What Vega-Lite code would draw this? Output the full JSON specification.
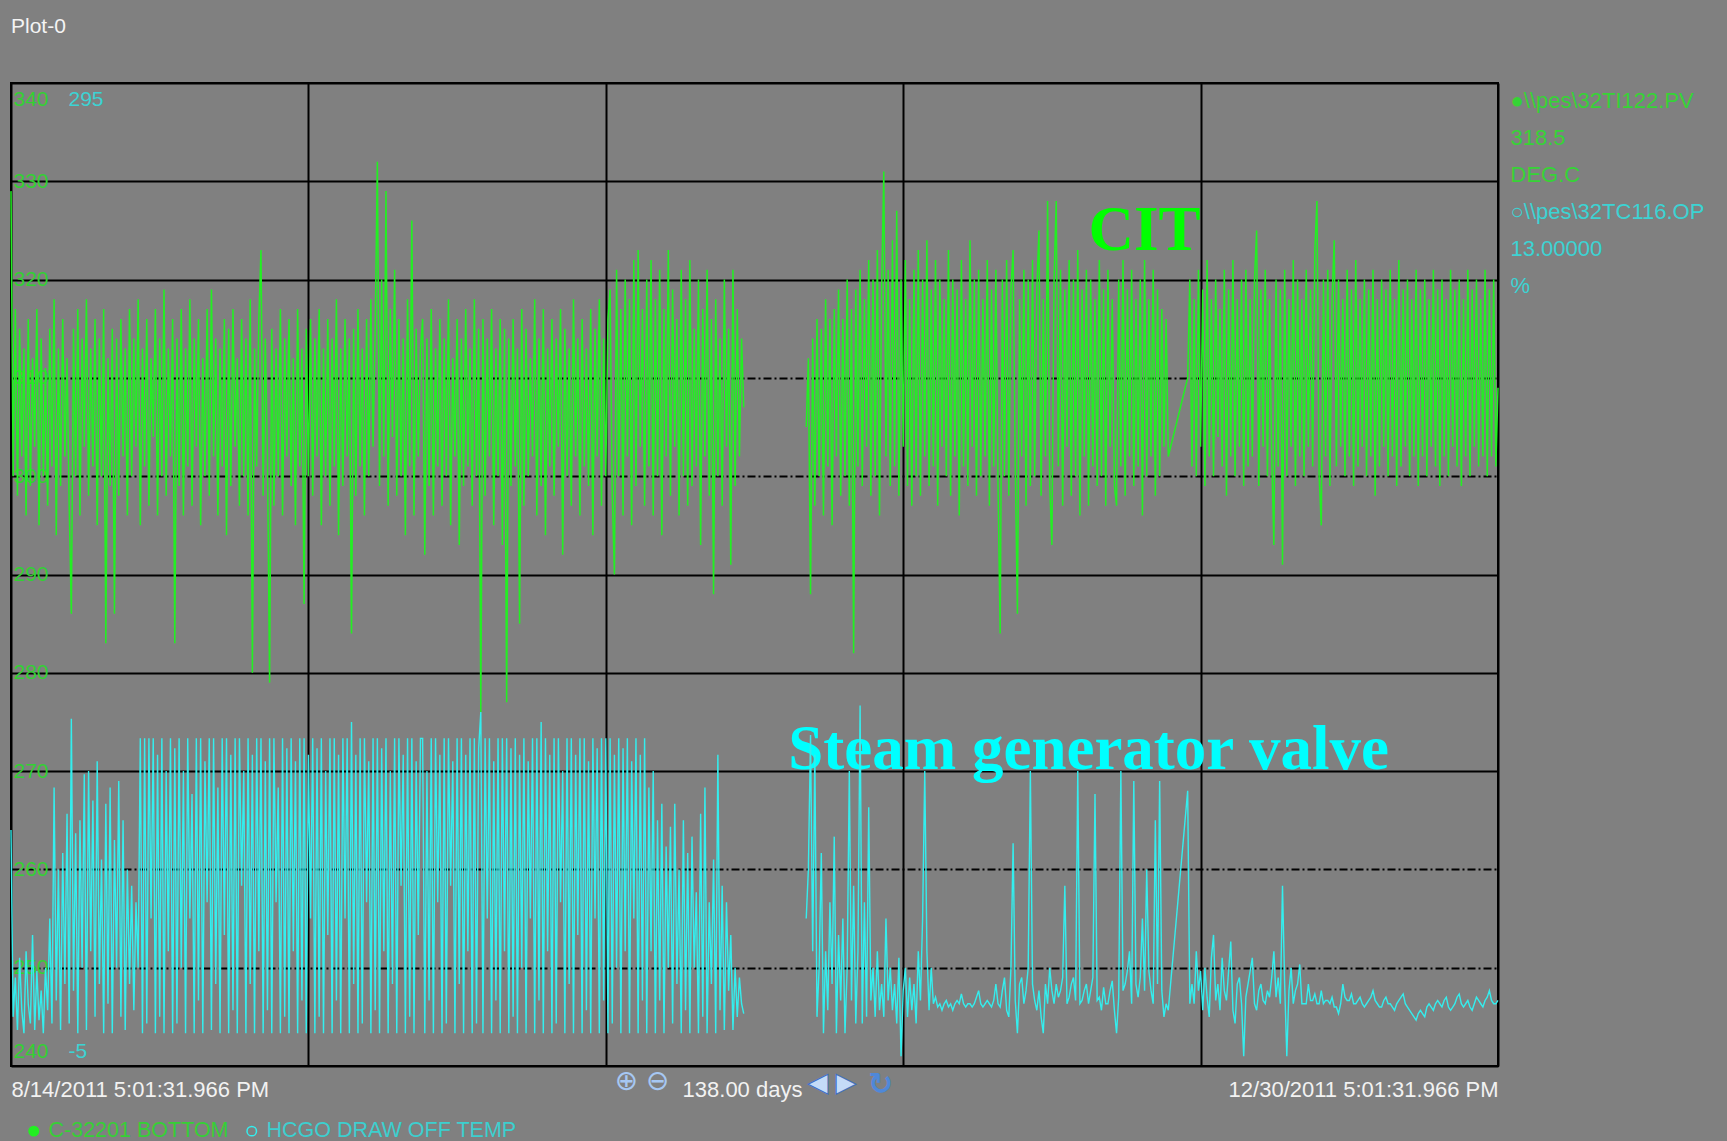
{
"$schema": "https://vega.github.io/schema/vega-lite/v6.json",
"width": 1487, "height": 983,
"autosize": {"type": "none"},
"padding": {"left": 11, "top": 83, "right": 229, "bottom": 75},
"background": "#808080",
"config": {
  "view": {"stroke": "#000000", "strokeWidth": 2},
  "font": "Liberation Sans",
  "axis": {"labelFont": "Liberation Sans", "titleFont": "Liberation Sans"},
  "legend": {"labelFont": "Liberation Sans"}
},
"title": {"text": "Plot-0", "anchor": "start", "frame": "group", "offset": 29, "baseline": "alphabetic", "color": "#f4f4f4", "fontSize": 21, "fontWeight": "normal", "font": "Liberation Sans"},
"data": {"values": [
{"d":0,"g":329,"c":67},{"d":0.2,"g":300,"c":10},{"d":0.4,"g":317,"c":22},{"d":0.6,"g":298,"c":6},{"d":0.8,"g":315,"c":28},{"d":1,"g":302,"c":12},{"d":1.2,"g":313,"c":5},{"d":1.4,"g":296,"c":30},{"d":1.6,"g":316,"c":14},{"d":1.8,"g":299,"c":8},
{"d":2,"g":312,"c":35},{"d":2.2,"g":303,"c":6},{"d":2.4,"g":317,"c":24},{"d":2.6,"g":295,"c":9},{"d":2.8,"g":314,"c":18},{"d":3,"g":300,"c":5},{"d":3.2,"g":311,"c":25},{"d":3.4,"g":297,"c":12},{"d":3.6,"g":315,"c":40},{"d":3.8,"g":301,"c":8},
{"d":4,"g":318,"c":80},{"d":4.2,"g":294,"c":15},{"d":4.4,"g":313,"c":55},{"d":4.6,"g":299,"c":6},{"d":4.8,"g":316,"c":60},{"d":5,"g":302,"c":20},{"d":5.2,"g":312,"c":72},{"d":5.4,"g":297,"c":8},{"d":5.6,"g":286,"c":101},{"d":5.8,"g":315,"c":18},
{"d":6,"g":300,"c":66},{"d":6.2,"g":317,"c":5},{"d":6.4,"g":296,"c":70},{"d":6.6,"g":314,"c":25},{"d":6.8,"g":303,"c":84},{"d":7,"g":318,"c":6},{"d":7.2,"g":298,"c":85},{"d":7.4,"g":313,"c":30},{"d":7.6,"g":301,"c":76},{"d":7.8,"g":316,"c":10},
{"d":8,"g":295,"c":88},{"d":8.2,"g":314,"c":20},{"d":8.4,"g":300,"c":58},{"d":8.6,"g":317,"c":5},{"d":8.8,"g":283,"c":75},{"d":9,"g":312,"c":14},{"d":9.2,"g":299,"c":80},{"d":9.4,"g":315,"c":5},{"d":9.6,"g":286,"c":64},{"d":9.8,"g":314,"c":25},
{"d":10,"g":298,"c":82},{"d":10.2,"g":316,"c":10},{"d":10.4,"g":302,"c":70},{"d":10.6,"g":313,"c":6},{"d":10.8,"g":296,"c":55},{"d":11,"g":317,"c":20},{"d":11.2,"g":300,"c":50},{"d":11.4,"g":314,"c":12},{"d":11.6,"g":303,"c":45},{"d":11.8,"g":318,"c":25},
{"d":12,"g":295,"c":95},{"d":12.2,"g":313,"c":5},{"d":12.4,"g":301,"c":95},{"d":12.6,"g":316,"c":8},{"d":12.8,"g":297,"c":95},{"d":13,"g":312,"c":40},{"d":13.2,"g":304,"c":95},{"d":13.4,"g":317,"c":5},{"d":13.6,"g":296,"c":90},{"d":13.8,"g":314,"c":10},
{"d":14,"g":300,"c":95},{"d":14.2,"g":319,"c":5},{"d":14.4,"g":298,"c":85},{"d":14.6,"g":313,"c":30},{"d":14.8,"g":302,"c":95},{"d":15,"g":316,"c":5},{"d":15.2,"g":283,"c":92},{"d":15.4,"g":314,"c":8},{"d":15.6,"g":299,"c":95},{"d":15.8,"g":317,"c":25},
{"d":16,"g":296,"c":85},{"d":16.2,"g":313,"c":5},{"d":16.4,"g":301,"c":95},{"d":16.6,"g":318,"c":40},{"d":16.8,"g":297,"c":78},{"d":17,"g":314,"c":5},{"d":17.2,"g":303,"c":95},{"d":17.4,"g":316,"c":15},{"d":17.6,"g":295,"c":95},{"d":17.8,"g":312,"c":5},
{"d":18,"g":300,"c":88},{"d":18.2,"g":317,"c":45},{"d":18.4,"g":298,"c":95},{"d":18.6,"g":319,"c":6},{"d":18.8,"g":302,"c":95},{"d":19,"g":314,"c":20},{"d":19.2,"g":296,"c":80},{"d":19.4,"g":313,"c":5},{"d":19.6,"g":301,"c":95},{"d":19.8,"g":316,"c":35},
{"d":20,"g":294,"c":95},{"d":20.2,"g":315,"c":5},{"d":20.4,"g":299,"c":90},{"d":20.6,"g":317,"c":12},{"d":20.8,"g":303,"c":95},{"d":21,"g":312,"c":5},{"d":21.2,"g":297,"c":95},{"d":21.4,"g":316,"c":50},{"d":21.6,"g":300,"c":85},{"d":21.8,"g":314,"c":5},
{"d":22,"g":296,"c":95},{"d":22.2,"g":318,"c":20},{"d":22.4,"g":280,"c":90},{"d":22.6,"g":313,"c":5},{"d":22.8,"g":301,"c":95},{"d":23,"g":316,"c":30},{"d":23.2,"g":323,"c":95},{"d":23.4,"g":298,"c":5},{"d":23.6,"g":314,"c":88},{"d":23.8,"g":302,"c":12},
{"d":24,"g":279,"c":95},{"d":24.2,"g":315,"c":5},{"d":24.4,"g":297,"c":95},{"d":24.6,"g":313,"c":45},{"d":24.8,"g":300,"c":80},{"d":25,"g":317,"c":5},{"d":25.2,"g":296,"c":95},{"d":25.4,"g":314,"c":10},{"d":25.6,"g":302,"c":92},{"d":25.8,"g":316,"c":5},
{"d":26,"g":299,"c":95},{"d":26.2,"g":312,"c":30},{"d":26.4,"g":295,"c":88},{"d":26.6,"g":317,"c":5},{"d":26.8,"g":301,"c":95},{"d":27,"g":313,"c":15},{"d":27.2,"g":287,"c":95},{"d":27.4,"g":315,"c":5},{"d":27.6,"g":300,"c":90},{"d":27.8,"g":316,"c":40},
{"d":28,"g":298,"c":95},{"d":28.2,"g":314,"c":5},{"d":28.4,"g":302,"c":92},{"d":28.6,"g":317,"c":10},{"d":28.8,"g":295,"c":95},{"d":29,"g":313,"c":5},{"d":29.2,"g":300,"c":85},{"d":29.4,"g":316,"c":35},{"d":29.6,"g":297,"c":95},{"d":29.8,"g":314,"c":5},
{"d":30,"g":301,"c":95},{"d":30.2,"g":318,"c":15},{"d":30.4,"g":294,"c":90},{"d":30.6,"g":313,"c":5},{"d":30.8,"g":299,"c":95},{"d":31,"g":316,"c":40},{"d":31.2,"g":302,"c":95},{"d":31.4,"g":314,"c":5},{"d":31.6,"g":284,"c":100},{"d":31.8,"g":315,"c":20},
{"d":32,"g":298,"c":90},{"d":32.2,"g":317,"c":5},{"d":32.4,"g":301,"c":95},{"d":32.6,"g":313,"c":8},{"d":32.8,"g":296,"c":95},{"d":33,"g":316,"c":45},{"d":33.2,"g":300,"c":88},{"d":33.4,"g":318,"c":5},{"d":33.6,"g":303,"c":95},{"d":33.8,"g":315,"c":12},
{"d":34,"g":332,"c":95},{"d":34.2,"g":299,"c":5},{"d":34.4,"g":320,"c":92},{"d":34.6,"g":302,"c":30},{"d":34.8,"g":329,"c":95},{"d":35,"g":297,"c":5},{"d":35.2,"g":317,"c":85},{"d":35.4,"g":304,"c":20},{"d":35.6,"g":321,"c":95},{"d":35.8,"g":298,"c":5},
{"d":36,"g":316,"c":95},{"d":36.2,"g":300,"c":50},{"d":36.4,"g":314,"c":90},{"d":36.6,"g":294,"c":5},{"d":36.8,"g":318,"c":95},{"d":37,"g":301,"c":10},{"d":37.2,"g":326,"c":95},{"d":37.4,"g":296,"c":5},{"d":37.6,"g":315,"c":88},{"d":37.8,"g":302,"c":35},
{"d":38,"g":313,"c":95},{"d":38.2,"g":316,"c":95},{"d":38.4,"g":292,"c":5},{"d":38.6,"g":314,"c":85},{"d":38.8,"g":299,"c":15},{"d":39,"g":317,"c":95},{"d":39.2,"g":296,"c":5},{"d":39.4,"g":313,"c":95},{"d":39.6,"g":301,"c":45},{"d":39.8,"g":316,"c":90},
{"d":40,"g":297,"c":5},{"d":40.2,"g":314,"c":95},{"d":40.4,"g":300,"c":8},{"d":40.6,"g":318,"c":95},{"d":40.8,"g":295,"c":50},{"d":41,"g":312,"c":88},{"d":41.2,"g":302,"c":5},{"d":41.4,"g":316,"c":95},{"d":41.6,"g":293,"c":20},{"d":41.8,"g":314,"c":95},
{"d":42,"g":299,"c":5},{"d":42.2,"g":317,"c":90},{"d":42.4,"g":301,"c":30},{"d":42.6,"g":313,"c":95},{"d":42.8,"g":297,"c":5},{"d":43,"g":318,"c":95},{"d":43.2,"g":300,"c":8},{"d":43.4,"g":315,"c":92},{"d":43.6,"g":276,"c":103},{"d":43.8,"g":316,"c":5},
{"d":44,"g":298,"c":95},{"d":44.2,"g":314,"c":40},{"d":44.4,"g":302,"c":95},{"d":44.6,"g":317,"c":5},{"d":44.8,"g":295,"c":88},{"d":45,"g":313,"c":15},{"d":45.2,"g":300,"c":95},{"d":45.4,"g":316,"c":5},{"d":45.6,"g":293,"c":95},{"d":45.8,"g":315,"c":30},
{"d":46,"g":277,"c":95},{"d":46.2,"g":314,"c":5},{"d":46.4,"g":299,"c":92},{"d":46.6,"g":316,"c":10},{"d":46.8,"g":301,"c":95},{"d":47,"g":313,"c":5},{"d":47.2,"g":285,"c":90},{"d":47.4,"g":317,"c":25},{"d":47.6,"g":297,"c":95},{"d":47.8,"g":315,"c":5},
{"d":48,"g":300,"c":88},{"d":48.2,"g":312,"c":40},{"d":48.4,"g":302,"c":95},{"d":48.6,"g":318,"c":5},{"d":48.8,"g":296,"c":95},{"d":49,"g":314,"c":15},{"d":49.2,"g":299,"c":100},{"d":49.4,"g":317,"c":5},{"d":49.6,"g":294,"c":95},{"d":49.8,"g":313,"c":30},
{"d":50,"g":301,"c":90},{"d":50.2,"g":316,"c":5},{"d":50.4,"g":298,"c":95},{"d":50.6,"g":314,"c":8},{"d":50.8,"g":303,"c":95},{"d":51,"g":317,"c":45},{"d":51.2,"g":292,"c":85},{"d":51.4,"g":315,"c":5},{"d":51.6,"g":300,"c":95},{"d":51.8,"g":313,"c":20},
{"d":52,"g":297,"c":95},{"d":52.2,"g":318,"c":5},{"d":52.4,"g":302,"c":90},{"d":52.6,"g":314,"c":35},{"d":52.8,"g":296,"c":95},{"d":53,"g":316,"c":5},{"d":53.2,"g":301,"c":95},{"d":53.4,"g":313,"c":12},{"d":53.6,"g":299,"c":88},{"d":53.8,"g":317,"c":5},
{"d":54,"g":294,"c":95},{"d":54.2,"g":315,"c":40},{"d":54.4,"g":302,"c":92},{"d":54.6,"g":318,"c":5},{"d":54.8,"g":297,"c":95},{"d":55,"g":314,"c":15},{"d":55.2,"g":300,"c":95},{"d":55.4,"g":316,"c":5},{"d":55.6,"g":319,"c":95},{"d":55.8,"g":298,"c":8},
{"d":56,"g":290,"c":90},{"d":56.2,"g":321,"c":25},{"d":56.4,"g":300,"c":95},{"d":56.6,"g":317,"c":5},{"d":56.8,"g":296,"c":92},{"d":57,"g":320,"c":30},{"d":57.2,"g":302,"c":95},{"d":57.4,"g":318,"c":5},{"d":57.6,"g":295,"c":88},{"d":57.8,"g":322,"c":40},
{"d":58,"g":299,"c":95},{"d":58.2,"g":323,"c":5},{"d":58.4,"g":303,"c":90},{"d":58.6,"g":317,"c":15},{"d":58.8,"g":297,"c":95},{"d":59,"g":320,"c":5},{"d":59.2,"g":301,"c":80},{"d":59.4,"g":322,"c":30},{"d":59.6,"g":296,"c":85},{"d":59.8,"g":318,"c":5},
{"d":60,"g":300,"c":70},{"d":60.2,"g":321,"c":15},{"d":60.4,"g":294,"c":75},{"d":60.6,"g":317,"c":5},{"d":60.8,"g":302,"c":62},{"d":61,"g":323,"c":25},{"d":61.2,"g":298,"c":68},{"d":61.4,"g":319,"c":8},{"d":61.6,"g":303,"c":75},{"d":61.8,"g":316,"c":20},
{"d":62,"g":296,"c":55},{"d":62.2,"g":321,"c":5},{"d":62.4,"g":300,"c":70},{"d":62.6,"g":318,"c":12},{"d":62.8,"g":297,"c":60},{"d":63,"g":322,"c":5},{"d":63.2,"g":299,"c":65},{"d":63.4,"g":315,"c":25},{"d":63.6,"g":301,"c":48},{"d":63.8,"g":320,"c":5},
{"d":64,"g":293,"c":72},{"d":64.2,"g":317,"c":10},{"d":64.4,"g":302,"c":80},{"d":64.6,"g":321,"c":5},{"d":64.8,"g":298,"c":45},{"d":65,"g":316,"c":20},{"d":65.2,"g":288,"c":58},{"d":65.4,"g":318,"c":5},{"d":65.6,"g":300,"c":90},{"d":65.8,"g":314,"c":12},
{"d":66,"g":297,"c":50},{"d":66.2,"g":320,"c":6},{"d":66.4,"g":303,"c":45},{"d":66.6,"g":315,"c":18},{"d":66.8,"g":291,"c":35},{"d":67,"g":321,"c":6},{"d":67.2,"g":299,"c":25},{"d":67.4,"g":317,"c":10},{"d":67.6,"g":302,"c":22},{"d":67.8,"g":314,"c":14},
{"d":68,"g":307,"c":11},{"d":71,"g":null,"c":null},
{"d":73.8,"g":305,"c":40},{"d":74,"g":312,"c":55},{"d":74.2,"g":288,"c":96},{"d":74.4,"g":314,"c":30},{"d":74.6,"g":297,"c":90},{"d":74.8,"g":316,"c":10},{"d":75,"g":300,"c":25},{"d":75.2,"g":315,"c":60},{"d":75.4,"g":296,"c":5},{"d":75.6,"g":318,"c":30},
{"d":75.8,"g":301,"c":12},{"d":76,"g":316,"c":45},{"d":76.2,"g":295,"c":20},{"d":76.4,"g":317,"c":65},{"d":76.6,"g":302,"c":5},{"d":76.8,"g":319,"c":35},{"d":77,"g":298,"c":15},{"d":77.2,"g":316,"c":40},{"d":77.4,"g":300,"c":5},{"d":77.6,"g":320,"c":25},
{"d":77.8,"g":297,"c":85},{"d":78,"g":317,"c":15},{"d":78.2,"g":282,"c":50},{"d":78.4,"g":319,"c":8},{"d":78.6,"g":301,"c":30},{"d":78.8,"g":321,"c":105},{"d":79,"g":299,"c":8},{"d":79.2,"g":318,"c":45},{"d":79.4,"g":303,"c":10},{"d":79.6,"g":322,"c":74},
{"d":79.8,"g":298,"c":15},{"d":80,"g":320,"c":25},{"d":80.2,"g":300,"c":10},{"d":80.4,"g":323,"c":30},{"d":80.6,"g":296,"c":12},{"d":80.8,"g":319,"c":20},{"d":81,"g":331,"c":10},{"d":81.2,"g":302,"c":40},{"d":81.4,"g":321,"c":15},{"d":81.6,"g":299,"c":25},
{"d":81.8,"g":324,"c":12},{"d":82,"g":301,"c":20},{"d":82.2,"g":327,"c":8},{"d":82.4,"g":298,"c":28},{"d":82.6,"g":320,"c":-2},{"d":82.8,"g":303,"c":18},{"d":83,"g":322,"c":25},{"d":83.2,"g":299,"c":10},{"d":83.4,"g":318,"c":22},{"d":83.6,"g":297,"c":12},
{"d":83.8,"g":321,"c":20},{"d":84,"g":300,"c":8},{"d":84.2,"g":323,"c":30},{"d":84.4,"g":298,"c":15},{"d":84.6,"g":320,"c":40},{"d":84.8,"g":302,"c":85},{"d":85,"g":324,"c":30},{"d":85.2,"g":299,"c":12},{"d":85.4,"g":319,"c":25},{"d":85.6,"g":301,"c":14},
{"d":85.8,"g":322,"c":16},{"d":86,"g":297,"c":13},{"d":86.2,"g":320,"c":14},{"d":86.4,"g":303,"c":12},{"d":86.6,"g":318,"c":14},{"d":86.8,"g":300,"c":15},{"d":87,"g":323,"c":13},{"d":87.2,"g":298,"c":14},{"d":87.4,"g":320,"c":12},{"d":87.6,"g":302,"c":14},
{"d":87.8,"g":319,"c":15},{"d":88,"g":296,"c":14},{"d":88.2,"g":322,"c":17},{"d":88.4,"g":301,"c":14},{"d":88.6,"g":318,"c":13},{"d":88.8,"g":299,"c":14},{"d":89,"g":324,"c":14},{"d":89.2,"g":303,"c":13},{"d":89.4,"g":320,"c":14},{"d":89.6,"g":298,"c":16},
{"d":89.8,"g":321,"c":18},{"d":90,"g":300,"c":14},{"d":90.2,"g":318,"c":13},{"d":90.4,"g":302,"c":14},{"d":90.6,"g":322,"c":15},{"d":90.8,"g":297,"c":14},{"d":91,"g":319,"c":13},{"d":91.2,"g":301,"c":15},{"d":91.4,"g":321,"c":20},{"d":91.6,"g":299,"c":14},
{"d":91.8,"g":284,"c":13},{"d":92,"g":320,"c":18},{"d":92.2,"g":300,"c":22},{"d":92.4,"g":322,"c":12},{"d":92.6,"g":298,"c":10},{"d":92.8,"g":319,"c":25},{"d":93,"g":323,"c":63},{"d":93.2,"g":301,"c":15},{"d":93.4,"g":286,"c":5},{"d":93.6,"g":318,"c":20},
{"d":93.8,"g":302,"c":22},{"d":94,"g":321,"c":14},{"d":94.2,"g":297,"c":18},{"d":94.4,"g":320,"c":25},{"d":94.6,"g":299,"c":85},{"d":94.8,"g":322,"c":20},{"d":95,"g":300,"c":15},{"d":95.2,"g":319,"c":12},{"d":95.4,"g":325,"c":18},{"d":95.6,"g":298,"c":10},
{"d":95.8,"g":318,"c":5},{"d":96,"g":302,"c":20},{"d":96.2,"g":328,"c":14},{"d":96.4,"g":299,"c":25},{"d":96.6,"g":293,"c":18},{"d":96.8,"g":320,"c":14},{"d":97,"g":328,"c":20},{"d":97.2,"g":301,"c":16},{"d":97.4,"g":321,"c":18},{"d":97.6,"g":297,"c":22},
{"d":97.8,"g":319,"c":50},{"d":98,"g":303,"c":14},{"d":98.2,"g":322,"c":16},{"d":98.4,"g":298,"c":20},{"d":98.6,"g":320,"c":22},{"d":98.8,"g":300,"c":15},{"d":99,"g":323,"c":85},{"d":99.2,"g":296,"c":14},{"d":99.4,"g":319,"c":15},{"d":99.6,"g":302,"c":18},
{"d":99.8,"g":321,"c":20},{"d":100,"g":297,"c":14},{"d":100.2,"g":320,"c":18},{"d":100.4,"g":301,"c":22},{"d":100.6,"g":318,"c":78},{"d":100.8,"g":299,"c":15},{"d":101,"g":322,"c":16},{"d":101.2,"g":300,"c":12},{"d":101.4,"g":319,"c":19},{"d":101.6,"g":297,"c":14},
{"d":101.8,"g":321,"c":14},{"d":102,"g":303,"c":18},{"d":102.2,"g":318,"c":21},{"d":102.4,"g":299,"c":12},{"d":102.6,"g":297,"c":5},{"d":102.8,"g":320,"c":16},{"d":103,"g":301,"c":85},{"d":103.2,"g":322,"c":18},{"d":103.4,"g":298,"c":20},{"d":103.6,"g":319,"c":24},
{"d":103.8,"g":302,"c":30},{"d":104,"g":321,"c":14},{"d":104.2,"g":299,"c":82},{"d":104.4,"g":318,"c":20},{"d":104.6,"g":301,"c":16},{"d":104.8,"g":320,"c":22},{"d":105,"g":296,"c":40},{"d":105.2,"g":322,"c":18},{"d":105.4,"g":300,"c":55},{"d":105.6,"g":318,"c":24},
{"d":105.8,"g":302,"c":18},{"d":106,"g":321,"c":14},{"d":106.2,"g":298,"c":70},{"d":106.4,"g":319,"c":20},{"d":106.6,"g":300,"c":82},{"d":106.8,"g":317,"c":18},{"d":107,"g":303,"c":10},{"d":107.2,"g":316,"c":14},{"d":107.4,"g":302,"c":12},{"d":109.2,"g":310,"c":79},
{"d":109.4,"g":320,"c":14},{"d":109.6,"g":301,"c":20},{"d":109.8,"g":318,"c":14},{"d":110,"g":300,"c":30},{"d":110.2,"g":321,"c":18},{"d":110.4,"g":303,"c":24},{"d":110.6,"g":319,"c":12},{"d":110.8,"g":299,"c":25},{"d":111,"g":322,"c":16},{"d":111.2,"g":302,"c":10},
{"d":111.4,"g":318,"c":28},{"d":111.6,"g":300,"c":35},{"d":111.8,"g":320,"c":15},{"d":112,"g":304,"c":20},{"d":112.2,"g":317,"c":12},{"d":112.4,"g":301,"c":28},{"d":112.6,"g":321,"c":18},{"d":112.8,"g":298,"c":15},{"d":113,"g":319,"c":24},{"d":113.2,"g":302,"c":33},
{"d":113.4,"g":322,"c":12},{"d":113.6,"g":300,"c":8},{"d":113.8,"g":318,"c":20},{"d":114,"g":303,"c":22},{"d":114.2,"g":320,"c":14},{"d":114.4,"g":299,"c":-2},{"d":114.6,"g":321,"c":16},{"d":114.8,"g":301,"c":20},{"d":115,"g":318,"c":24},{"d":115.2,"g":302,"c":28},
{"d":115.4,"g":320,"c":14},{"d":115.6,"g":325,"c":12},{"d":115.8,"g":299,"c":18},{"d":116,"g":319,"c":20},{"d":116.2,"g":303,"c":15},{"d":116.4,"g":321,"c":14},{"d":116.6,"g":300,"c":18},{"d":116.8,"g":318,"c":16},{"d":117,"g":302,"c":22},{"d":117.2,"g":293,"c":30},
{"d":117.4,"g":320,"c":16},{"d":117.6,"g":301,"c":22},{"d":117.8,"g":319,"c":14},{"d":118,"g":291,"c":50},{"d":118.2,"g":321,"c":20},{"d":118.4,"g":300,"c":-2},{"d":118.6,"g":318,"c":18},{"d":118.8,"g":303,"c":25},{"d":119,"g":322,"c":14},{"d":119.2,"g":299,"c":18},
{"d":119.4,"g":320,"c":20},{"d":119.6,"g":302,"c":26},{"d":119.8,"g":318,"c":14},{"d":120,"g":300,"c":14},{"d":120.2,"g":321,"c":14},{"d":120.4,"g":303,"c":20},{"d":120.6,"g":319,"c":15},{"d":120.8,"g":301,"c":15},{"d":121,"g":323,"c":17},{"d":121.2,"g":328,"c":14},
{"d":121.4,"g":300,"c":14},{"d":121.6,"g":295,"c":18},{"d":121.8,"g":320,"c":14},{"d":122,"g":302,"c":15},{"d":122.2,"g":321,"c":15},{"d":122.4,"g":299,"c":14},{"d":122.6,"g":318,"c":16},{"d":122.8,"g":324,"c":13},{"d":123,"g":301,"c":13},{"d":123.2,"g":320,"c":11},
{"d":123.4,"g":303,"c":14},{"d":123.6,"g":318,"c":20},{"d":123.8,"g":300,"c":16},{"d":124,"g":321,"c":15},{"d":124.2,"g":302,"c":15},{"d":124.4,"g":319,"c":17},{"d":124.6,"g":299,"c":14},{"d":124.8,"g":322,"c":14},{"d":125,"g":301,"c":15},{"d":125.2,"g":318,"c":16},
{"d":125.4,"g":303,"c":14},{"d":125.6,"g":320,"c":13},{"d":125.8,"g":300,"c":14},{"d":126,"g":319,"c":15},{"d":126.2,"g":302,"c":16},{"d":126.4,"g":321,"c":18},{"d":126.6,"g":298,"c":15},{"d":126.8,"g":318,"c":14},{"d":127,"g":301,"c":13},{"d":127.2,"g":320,"c":13},
{"d":127.4,"g":303,"c":15},{"d":127.6,"g":319,"c":16},{"d":127.8,"g":300,"c":14},{"d":128,"g":321,"c":14},{"d":128.2,"g":302,"c":13},{"d":128.4,"g":318,"c":12},{"d":128.6,"g":299,"c":14},{"d":128.8,"g":322,"c":15},{"d":129,"g":301,"c":16},{"d":129.2,"g":319,"c":17},
{"d":129.4,"g":303,"c":14},{"d":129.6,"g":320,"c":13},{"d":129.8,"g":300,"c":12},{"d":130,"g":318,"c":11},{"d":130.2,"g":302,"c":10},{"d":130.4,"g":321,"c":9},{"d":130.6,"g":299,"c":11},{"d":130.8,"g":319,"c":12},{"d":131,"g":302,"c":11},{"d":131.2,"g":320,"c":10},
{"d":131.4,"g":300,"c":13},{"d":131.6,"g":318,"c":14},{"d":131.8,"g":303,"c":13},{"d":132,"g":321,"c":12},{"d":132.2,"g":301,"c":14},{"d":132.4,"g":319,"c":15},{"d":132.6,"g":299,"c":14},{"d":132.8,"g":320,"c":13},{"d":133,"g":302,"c":15},{"d":133.2,"g":318,"c":16},
{"d":133.4,"g":300,"c":13},{"d":133.6,"g":321,"c":12},{"d":133.8,"g":303,"c":13},{"d":134,"g":319,"c":14},{"d":134.2,"g":301,"c":16},{"d":134.4,"g":320,"c":17},{"d":134.6,"g":299,"c":14},{"d":134.8,"g":318,"c":13},{"d":135,"g":302,"c":14},{"d":135.2,"g":321,"c":15},
{"d":135.4,"g":300,"c":13},{"d":135.6,"g":319,"c":12},{"d":135.8,"g":303,"c":14},{"d":136,"g":320,"c":16},{"d":136.2,"g":301,"c":15},{"d":136.4,"g":318,"c":14},{"d":136.6,"g":302,"c":13},{"d":136.8,"g":321,"c":15},{"d":137,"g":300,"c":16},{"d":137.2,"g":319,"c":18},
{"d":137.4,"g":302,"c":15},{"d":137.6,"g":320,"c":14},{"d":137.8,"g":301,"c":14},{"d":138,"g":309,"c":15}
]},
"encoding": {
  "x": {"field": "d", "type": "quantitative", "scale": {"domain": [0, 138], "nice": false, "zero": false},
    "axis": {"values": [0, 27.6, 55.2, 82.8, 110.4, 138],
      "labelExpr": "datum.value === 0 ? '8/14/2011 5:01:31.966 PM' : (datum.value === 138 ? '12/30/2011 5:01:31.966 PM' : '')",
      "labelFlush": true, "labelOverlap": false, "labelLimit": 0, "labelColor": "#f2f2f2", "labelFontSize": 22, "labelBaseline": "alphabetic", "labelPadding": 30,
      "tickSize": 0, "ticks": false, "domain": false,
      "grid": true, "gridColor": "#000000", "gridWidth": 2, "gridOpacity": 1,
      "title": "138.00 days", "titleColor": "#f2f2f2", "titleFontSize": 22, "titleFontWeight": "normal", "titleBaseline": "alphabetic", "titleX": 731, "titleY": 30}}
},
"layer": [
  {"layer": [
    {"mark": {"type": "line", "strokeWidth": 1.5, "invalid": "break-paths-filter-domains"},
     "encoding": {
       "y": {"field": "g", "type": "quantitative", "scale": {"domain": [240, 340], "nice": false, "zero": false},
         "axis": {"orient": "left", "values": [240, 250, 260, 270, 280, 290, 300, 310, 320, 330, 340],
           "labelAlign": "left", "labelPadding": -2, "tickSize": 0, "ticks": false, "domain": false,
           "labelColor": "#33d033", "labelFontSize": 21, "labelFlush": true, "labelFlushOffset": -5, "labelOverlap": false,
           "grid": true, "gridColor": "#000000", "gridWidth": 2, "gridOpacity": 1,
           "gridDash": {"condition": {"test": "datum.value === 310 || datum.value === 300 || datum.value === 260 || datum.value === 250", "value": [8, 3, 2, 3]}, "value": []},
           "title": ["●\\\\pes\\32TI122.PV", "\u00a0\u00a0\u00a0318.5", "\u00a0\u00a0\u00a0DEG.C"],
           "titleColor": "#36d336", "titleFontSize": 22, "titleFontWeight": "normal", "titleAngle": 0, "titleAlign": "left",
           "titleBaseline": "alphabetic", "titleX": 1499, "titleY": 24, "titleLineHeight": 37, "titleLimit": 0}},
       "color": {"datum": "C-32201 BOTTOM", "type": "nominal",
         "scale": {"domain": ["C-32201 BOTTOM", "HCGO DRAW OFF TEMP"], "range": ["#22f022", "#33eeee"]},
         "legend": {"orient": "none", "legendX": 12, "legendY": 1037, "direction": "horizontal", "title": null,
           "symbolType": "circle", "symbolSize": 90, "labelFontSize": 21.5, "labelOffset": 4, "columnPadding": 12, "padding": 0, "labelLimit": 0,
           "encode": {
             "labels": {"update": {"fill": {"signal": "datum.value === 'C-32201 BOTTOM' ? '#36cf36' : '#3ccfcf'"}}},
             "symbols": {"update": {"fill": {"signal": "datum.value === 'C-32201 BOTTOM' ? '#22ee22' : 'transparent'"}, "stroke": {"signal": "datum.value === 'C-32201 BOTTOM' ? '#22ee22' : '#55e0e0'"}, "strokeWidth": {"value": 1.5}}}
           }}}
     }},
    {"transform": [{"filter": "datum.d === 0"}],
     "mark": {"type": "text", "font": "Liberation Serif", "fontWeight": "bold", "fontSize": 63, "color": "#00ff00", "align": "center", "baseline": "alphabetic"},
     "encoding": {"x": {"datum": 105.2}, "y": {"datum": 323}, "text": {"value": "CIT"}}},
    {"transform": [{"filter": "datum.d === 0"}],
     "mark": {"type": "text", "font": "Liberation Serif", "fontWeight": "bold", "fontSize": 63, "color": "#00ffff", "align": "center", "baseline": "alphabetic"},
     "encoding": {"x": {"datum": 100.0}, "y": {"datum": 270.2}, "text": {"value": "Steam generator valve"}}},
    {"transform": [{"filter": "datum.d === 0"}],
     "mark": {"type": "text", "font": "DejaVu Sans", "fontSize": 28, "color": "#a6c7f2", "align": "center", "baseline": "middle"},
     "encoding": {"x": {"datum": 57.1}, "y": {"datum": 238.4}, "text": {"value": "⊕"}}},
    {"transform": [{"filter": "datum.d === 0"}],
     "mark": {"type": "text", "font": "DejaVu Sans", "fontSize": 28, "color": "#a6c7f2", "align": "center", "baseline": "middle"},
     "encoding": {"x": {"datum": 60.0}, "y": {"datum": 238.4}, "text": {"value": "⊖"}}},
    {"transform": [{"filter": "datum.d === 0"}],
     "mark": {"type": "text", "font": "DejaVu Sans", "fontSize": 26, "color": "#c4dbf8", "stroke": "#3d6fc4", "strokeWidth": 1, "align": "center", "baseline": "middle"},
     "encoding": {"x": {"datum": 74.9}, "y": {"datum": 238.3}, "text": {"value": "◀"}}},
    {"transform": [{"filter": "datum.d === 0"}],
     "mark": {"type": "text", "font": "DejaVu Sans", "fontSize": 26, "color": "#c4dbf8", "stroke": "#3d6fc4", "strokeWidth": 1, "align": "center", "baseline": "middle"},
     "encoding": {"x": {"datum": 77.5}, "y": {"datum": 238.3}, "text": {"value": "▶"}}},
    {"transform": [{"filter": "datum.d === 0"}],
     "mark": {"type": "text", "font": "DejaVu Sans", "fontSize": 30, "color": "#4f88d9", "align": "center", "baseline": "middle", "fontWeight": "bold"},
     "encoding": {"x": {"datum": 80.7}, "y": {"datum": 238.1}, "text": {"value": "↻"}}}
  ]},
  {"layer": [
    {"mark": {"type": "line", "strokeWidth": 1.4, "invalid": "break-paths-filter-domains"},
     "encoding": {
       "y": {"field": "c", "type": "quantitative", "scale": {"domain": [-5, 295], "nice": false, "zero": false},
         "axis": {"orient": "left", "values": [-5, 295], "labelExpr": "datum.value < 0 ? '-5' : datum.label", "labelAlign": "left", "labelPadding": -57, "tickSize": 0, "ticks": false, "domain": false, "grid": false,
           "labelColor": "#3cd3d3", "labelFontSize": 21, "labelFlush": true, "labelFlushOffset": -5, "labelOverlap": false,
           "title": ["○\\\\pes\\32TC116.OP", "\u00a0\u00a0\u00a013.00000", "\u00a0\u00a0\u00a0%"],
           "titleColor": "#3cd3d3", "titleFontSize": 22, "titleFontWeight": "normal", "titleAngle": 0, "titleAlign": "left",
           "titleBaseline": "alphabetic", "titleX": 1499, "titleY": 135, "titleLineHeight": 37, "titleLimit": 0}},
       "color": {"datum": "HCGO DRAW OFF TEMP", "type": "nominal"}
     }}
  ]}
],
"resolve": {"scale": {"y": "independent"}, "axis": {"y": "independent"}}
}
